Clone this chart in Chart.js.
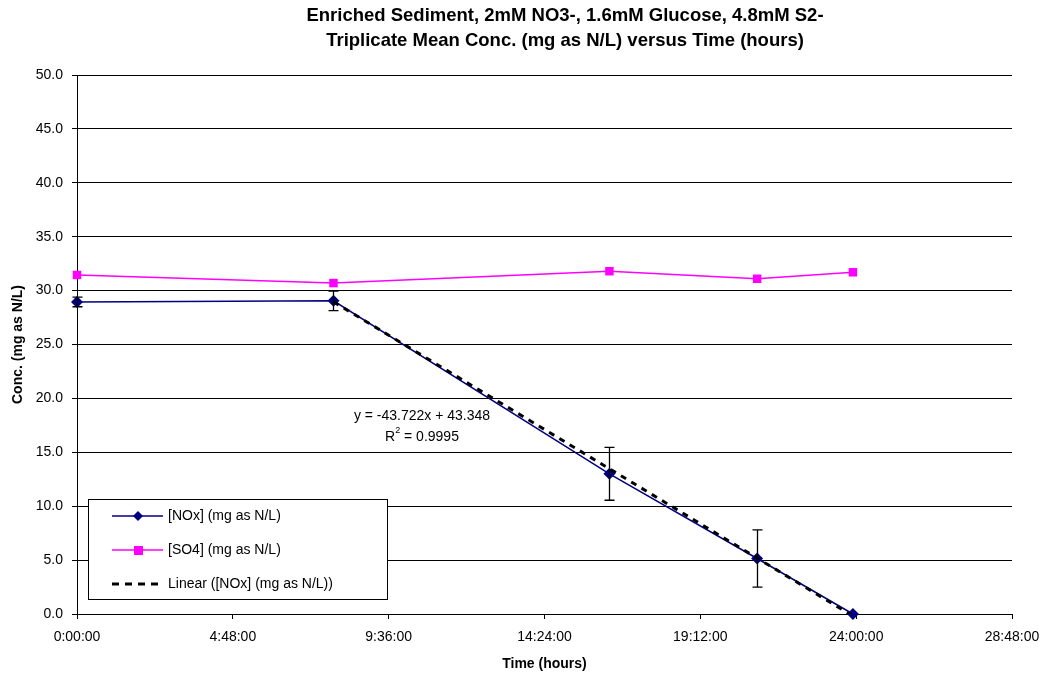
<!DOCTYPE html>
<html>
<head>
<meta charset="utf-8">
<script src="https://cdn.jsdelivr.net/npm/chart.js@4/dist/chart.umd.min.js"></script>
<style>
    html, body { margin: 0; padding: 0; background: #fff; }
    #wrap { width: 1046px; height: 677px; }
</style>
</head>
<body>
<div id="wrap"><canvas id="chart" width="1046" height="677"></canvas></div>
<script>
'use strict';

// time in hours
let sampleHours = [0, 7.9, 16.4, 20.95, 23.9];
let noxValues = [28.95, 29.05, 13.0, 5.15, 0.0];
let noxErrors = [0.45, 0.9, 2.45, 2.65, 0];
let so4Values = [31.45, 30.7, 31.8, 31.1, 31.7];
let trendHours = [7.9, 23.9];
let trendValues = [28.96, -0.19];
let xTicks = [0, 4.8, 9.6, 14.4, 19.2, 24, 28.8];
let yTicks = [0, 5, 10, 15, 20, 25, 30, 35, 40, 45, 50];
let titleLines = ['Enriched Sediment, 2mM NO3-, 1.6mM Glucose, 4.8mM S2-', 'Triplicate Mean Conc. (mg as N/L) versus Time (hours)'];
let legendLabels = ['[NOx] (mg as N/L)', '[SO4] (mg as N/L)', 'Linear ([NOx] (mg as N/L))'];

const FONT = '"Liberation Sans", Arial, sans-serif';

let toPoints = function (xs, ys) {
    return xs.map((x, i) => ({ x: x, y: ys[i] }));
};

let fmtTime = function (h) {
    let totalMin = Math.round(h * 60);
    let hh = Math.floor(totalMin / 60);
    let mm = totalMin % 60;
    return hh + ':' + String(mm).padStart(2, '0') + ':00';
};

// error bars on the NOx series
let errorBars = {
    id: 'errorBars',
    afterDatasetsDraw(chart) {
        let ctx = chart.ctx;
        let xs = chart.scales.x, ys = chart.scales.y;
        ctx.save();
        ctx.strokeStyle = '#000';
        ctx.lineWidth = 1.3;
        sampleHours.forEach((h, i) => {
            if (!noxErrors[i]) return;
            let px = Math.round(xs.getPixelForValue(h)) + 0.5;
            let top = ys.getPixelForValue(noxValues[i] + noxErrors[i]);
            let bot = ys.getPixelForValue(noxValues[i] - noxErrors[i]);
            ctx.beginPath();
            ctx.moveTo(px, top); ctx.lineTo(px, bot);
            ctx.moveTo(px - 5, top); ctx.lineTo(px + 5, top);
            ctx.moveTo(px - 5, bot); ctx.lineTo(px + 5, bot);
            ctx.stroke();
        });
        ctx.restore();
    }
};

// titles, equation label and the boxed legend
let decorations = {
    id: 'decorations',
    afterDraw(chart) {
        let ctx = chart.ctx;
        ctx.save();
        ctx.fillStyle = '#000';
        ctx.textAlign = 'center';
        ctx.textBaseline = 'middle';
        ctx.font = 'bold 18.5px ' + FONT;
        ctx.fillText(titleLines[0], 565, 16);
        ctx.fillText(titleLines[1], 565, 41);

        // trend equation
        ctx.font = '14px ' + FONT;
        ctx.fillText('y = -43.722x + 43.348', 422, 416);
        ctx.textAlign = 'left';
        let r = 'R', rest = ' = 0.9995';
        let rw = ctx.measureText(r).width;
        let restW = ctx.measureText(rest).width;
        let sx = 422 - (rw + 5 + restW) / 2;
        ctx.fillText(r, sx, 437);
        ctx.font = '9px ' + FONT;
        ctx.fillText('2', sx + rw, 431);
        ctx.font = '14px ' + FONT;
        ctx.fillText(rest, sx + rw + 5, 437);

        // legend box
        ctx.fillStyle = '#fff';
        ctx.fillRect(88, 499, 300, 100);
        ctx.strokeStyle = '#000';
        ctx.lineWidth = 1;
        ctx.strokeRect(88.5, 499.5, 299, 100);
        let rows = [516, 550, 584];
        ctx.font = '14px ' + FONT;
        ctx.textAlign = 'left';
        // NOx
        ctx.strokeStyle = '#000080';
        ctx.lineWidth = 1.5;
        ctx.beginPath(); ctx.moveTo(112, rows[0]); ctx.lineTo(163, rows[0]); ctx.stroke();
        ctx.fillStyle = '#000080';
        ctx.beginPath();
        ctx.moveTo(138, rows[0] - 5); ctx.lineTo(143, rows[0]); ctx.lineTo(138, rows[0] + 5); ctx.lineTo(133, rows[0]);
        ctx.closePath(); ctx.fill();
        // SO4
        ctx.strokeStyle = '#ff00ff';
        ctx.beginPath(); ctx.moveTo(112, rows[1]); ctx.lineTo(163, rows[1]); ctx.stroke();
        ctx.fillStyle = '#ff00ff';
        ctx.fillRect(134, rows[1] - 4, 9, 9);
        // trend
        ctx.strokeStyle = '#000';
        ctx.lineWidth = 3;
        ctx.setLineDash([7, 6]);
        ctx.beginPath(); ctx.moveTo(112, rows[2]); ctx.lineTo(163, rows[2]); ctx.stroke();
        ctx.setLineDash([]);
        ctx.fillStyle = '#000';
        legendLabels.forEach((t, i) => ctx.fillText(t, 168, rows[i]));
        ctx.restore();
    }
};

let ctx = document.getElementById('chart').getContext('2d');
let chart = new Chart(ctx, {
    type: 'scatter',
    data: {
        datasets: [
            {
                label: legendLabels[0],
                data: toPoints(sampleHours, noxValues),
                showLine: true,
                clip: false,
                borderColor: '#000080',
                backgroundColor: '#000080',
                borderWidth: 1.5,
                pointStyle: 'rectRot',
                pointRadius: 6,
                pointBorderWidth: 0,
                order: 2
            },
            {
                label: legendLabels[1],
                data: toPoints(sampleHours, so4Values),
                showLine: true,
                clip: false,
                borderColor: '#ff00ff',
                backgroundColor: '#ff00ff',
                borderWidth: 1.5,
                pointStyle: 'rect',
                pointRadius: 6,
                pointBorderWidth: 0,
                order: 3
            },
            {
                label: legendLabels[2],
                data: toPoints(trendHours, trendValues),
                showLine: true,
                borderColor: '#000',
                borderWidth: 3,
                borderDash: [6, 6],
                pointRadius: 0,
                order: 1
            }
        ]
    },
    options: {
        responsive: false,
        animation: false,
        layout: { padding: { left: 0, right: 34, top: 75, bottom: 0 } },
        plugins: {
            legend: { display: false },
            title: { display: false },
            tooltip: { enabled: false }
        },
        scales: {
            x: {
                type: 'linear',
                min: 0,
                max: 28.8,
                afterBuildTicks: (scale) => { scale.ticks = xTicks.map(v => ({ value: v })); },
                afterFit: (scale) => {
                    scale.height = 63;
                    scale.paddingLeft = 0;
                    scale.paddingRight = 0;
                },
                ticks: {
                    color: '#000',
                    font: { family: FONT, size: 14 },
                    padding: 10,
                    maxRotation: 0,
                    callback: (v) => fmtTime(v)
                },
                grid: {
                    drawOnChartArea: false,
                    color: '#000',
                    tickLength: 5,
                    tickColor: '#000'
                },
                border: { color: '#000', width: 1 },
                title: {
                    display: true,
                    text: 'Time (hours)',
                    color: '#000',
                    font: { family: FONT, size: 14, weight: 'bold' },
                    padding: { top: 2 }
                }
            },
            y: {
                min: 0,
                max: 50,
                afterBuildTicks: (scale) => { scale.ticks = yTicks.map(v => ({ value: v })); },
                afterFit: (scale) => { scale.width = 77; },
                ticks: {
                    color: '#000',
                    font: { family: FONT, size: 14 },
                    padding: 9,
                    callback: (v) => v.toFixed(1)
                },
                grid: {
                    color: '#000',
                    lineWidth: 1,
                    tickLength: 5,
                    tickColor: '#000'
                },
                border: { color: '#000', width: 1 },
                title: {
                    display: true,
                    text: 'Conc. (mg as N/L)',
                    color: '#000',
                    font: { family: FONT, size: 14, weight: 'bold' },
                    padding: { top: 10, bottom: 4 }
                }
            }
        }
    },
    plugins: [errorBars, decorations]
});
</script>
</body>
</html>
